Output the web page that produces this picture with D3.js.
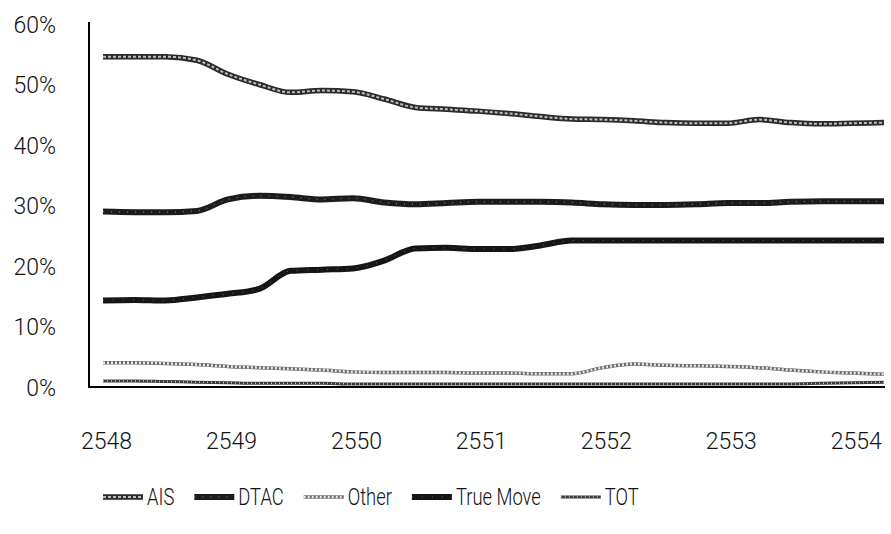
<!DOCTYPE html>
<html>
<head>
<meta charset="utf-8">
<script src="https://cdn.jsdelivr.net/npm/d3@7"></script>
<style>
  html, body { margin: 0; padding: 0; background: #fff; }
  svg text { font-family: Roboto, "Open Sans", sans-serif; font-weight: 300; fill: #111; }
</style>
</head>
<body>
<div class="chartWrapper"></div>
<script>
// quarterly market share (%)
var quarters = ['2548 Q1','2548 Q2','2548 Q3','2548 Q4','2549 Q1','2549 Q2','2549 Q3','2549 Q4',
                '2550 Q1','2550 Q2','2550 Q3','2550 Q4','2551 Q1','2551 Q2','2551 Q3','2551 Q4',
                '2552 Q1','2552 Q2','2552 Q3','2552 Q4','2553 Q1','2553 Q2','2553 Q3','2553 Q4',
                '2554 Q1','2554 Q2'];
var ais      = [54.6,54.6,54.6,54.0,51.7,50.0,48.7,49.0,48.8,47.6,46.2,45.9,45.6,45.2,44.7,44.3,44.2,44.0,43.7,43.6,43.6,44.2,43.7,43.5,43.6,43.7];
var dtac     = [29.0,28.9,28.9,29.1,31.0,31.6,31.4,31.0,31.2,30.5,30.2,30.4,30.6,30.6,30.6,30.5,30.2,30.1,30.1,30.2,30.4,30.4,30.6,30.7,30.7,30.7];
var other    = [4.0,4.0,3.9,3.7,3.4,3.2,3.0,2.8,2.5,2.4,2.4,2.4,2.3,2.3,2.2,2.2,3.2,3.8,3.6,3.5,3.4,3.2,2.8,2.5,2.3,2.1];
var trueMove = [14.3,14.4,14.3,14.8,15.4,16.2,19.2,19.4,19.6,20.9,22.9,23.0,22.8,22.8,23.4,24.2,24.2,24.2,24.2,24.2,24.2,24.2,24.2,24.2,24.2,24.2];
var tot      = [1.0,1.0,0.9,0.8,0.7,0.6,0.6,0.6,0.5,0.5,0.5,0.5,0.5,0.5,0.5,0.5,0.5,0.5,0.5,0.5,0.5,0.5,0.5,0.6,0.7,0.8];
var years    = [2548,2549,2550,2551,2552,2553,2554];
var yTicks   = [0,10,20,30,40,50,60];
var legendNames = ['AIS','DTAC','Other','True Move','TOT'];

var width = 891, height = 534;

// line looks (scanned texture: dark stroke with light speckles on top)
var styles = {
  'AIS':       { base:'#2a2a2a', bw:5.5, over:'#fff', ow:2,   dash:'3,2', op:0.7 },
  'DTAC':      { base:'#1c1c1c', bw:6,   over:'#fff', ow:1,   dash:'1,7', op:0.5 },
  'Other':     { base:'#6a6a6a', bw:3.5, over:'#fff', ow:2.5, dash:'2,2', op:0.85 },
  'True Move': { base:'#151515', bw:6,   over:'#fff', ow:1,   dash:'1,9', op:0.35 },
  'TOT':       { base:'#3a3a3a', bw:3,   over:'#fff', ow:1.5, dash:'1,3', op:0.7 }
};

var seriesData = {'AIS':ais,'DTAC':dtac,'Other':other,'True Move':trueMove,'TOT':tot};

function qTime(q) {
  var p = q.split(' Q');
  return +p[0] + (+p[1] - 1) / 4;
}

var svg = d3.select('.chartWrapper').append('svg')
  .attr('width', width).attr('height', height);

var xScale = d3.scaleLinear().domain([2548, 2554.25]).range([103, 884]);
var yScale = d3.scaleLinear().domain([0, 60]).range([387, 24]);

// axes
var yAxis = d3.axisLeft(yScale).tickValues(yTicks).tickSize(0).tickPadding(0)
  .tickFormat(function (d) { return d + '%'; });
var gy = svg.append('g').attr('transform', 'translate(56,0)').call(yAxis);
gy.select('.domain').remove();
gy.selectAll('text').attr('font-size', '23px').attr('font-family', null)
  .attr('fill', '#111').attr('dy', '0.36em');

var xAxis = d3.axisBottom(xScale).tickValues(years).tickSize(0).tickPadding(0)
  .tickFormat(d3.format('d'));
var gx = svg.append('g').attr('transform', 'translate(3,433)').call(xAxis);
gx.select('.domain').remove();
gx.selectAll('text').attr('font-size', '23px').attr('font-family', null)
  .attr('fill', '#111').attr('dy', '0.7em');

svg.append('line').attr('x1', 89).attr('x2', 89).attr('y1', 22).attr('y2', yScale(0))
  .attr('stroke', '#000').attr('stroke-width', 2);
svg.append('line').attr('x1', 88).attr('x2', 885).attr('y1', yScale(0)).attr('y2', yScale(0))
  .attr('stroke', '#000').attr('stroke-width', 2);

// lines
var line = d3.line()
  .x(function (d, i) { return xScale(qTime(quarters[i])); })
  .y(function (d) { return yScale(d); })
  .curve(d3.curveMonotoneX);

var drawOrder = ['TOT','Other','True Move','DTAC','AIS'];
drawOrder.forEach(function (name) {
  var s = styles[name];
  svg.append('path').datum(seriesData[name])
    .attr('fill', 'none').attr('stroke', s.base).attr('stroke-width', s.bw)
    .attr('stroke-linejoin', 'round').attr('d', line);
  svg.append('path').datum(seriesData[name])
    .attr('fill', 'none').attr('stroke', s.over).attr('stroke-width', s.ow)
    .attr('stroke-dasharray', s.dash).attr('opacity', s.op).attr('d', line);
});

// legend
var lx = 103, ly = 497;
legendNames.forEach(function (name) {
  var s = styles[name];
  var g = svg.append('g').attr('transform', 'translate(' + lx + ',' + ly + ')');
  g.append('line').attr('x1', 0).attr('x2', 40).attr('y1', 0).attr('y2', 0)
    .attr('stroke', s.base).attr('stroke-width', s.bw);
  g.append('line').attr('x1', 0).attr('x2', 40).attr('y1', 0).attr('y2', 0)
    .attr('stroke', s.over).attr('stroke-width', s.ow)
    .attr('stroke-dasharray', s.dash).attr('opacity', s.op);
  var t = g.append('text').attr('x', 0).attr('y', 0).attr('dy', '0.36em')
    .attr('font-size', '23px')
    .attr('transform', 'translate(44,0) scale(0.8,1)')
    .text(name);
  var w = t.node().getComputedTextLength() * 0.8;
  lx += 44 + w + 20;
});
</script>
</body>
</html>
